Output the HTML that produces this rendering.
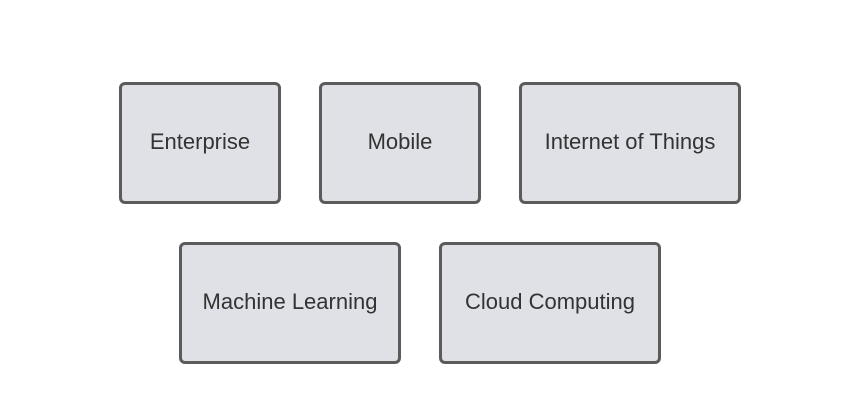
<!DOCTYPE html>
<html><head><style>
html,body{margin:0;padding:0;background:#fff;width:847px;height:403px;overflow:hidden}
.b{position:absolute;box-sizing:border-box;background:#dfe1e6;border:3px solid #5b5b5b;border-radius:6px;display:flex;align-items:center;justify-content:center;font-family:"Liberation Sans",sans-serif;font-size:22px;color:#333;height:122px;padding-bottom:3px}
</style></head><body>
<div class="b" style="left:119px;top:82px;width:162px">Enterprise</div>
<div class="b" style="left:319px;top:82px;width:162px">Mobile</div>
<div class="b" style="left:519px;top:82px;width:222px">Internet of Things</div>
<div class="b" style="left:179px;top:242px;width:222px">Machine Learning</div>
<div class="b" style="left:439px;top:242px;width:222px">Cloud Computing</div>
</body></html>
